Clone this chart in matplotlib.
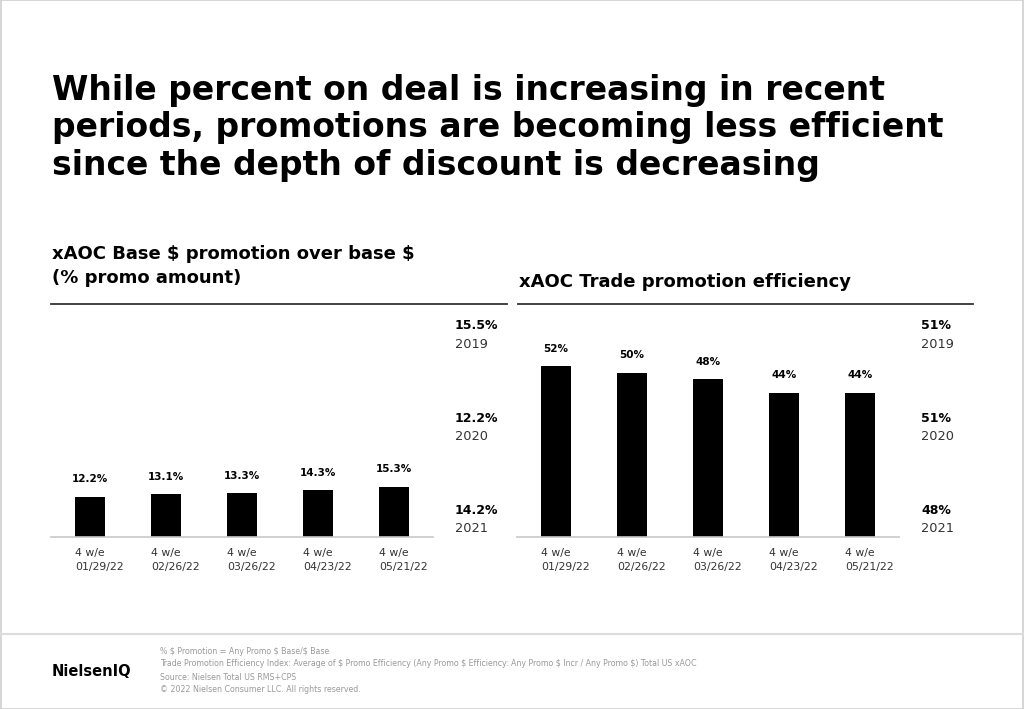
import matplotlib.pyplot as plt
from matplotlib.lines import Line2D
from matplotlib.patches import Rectangle

plt.rcParams["text.parse_math"] = False

periods = ["4 w/e\n01/29/22", "4 w/e\n02/26/22", "4 w/e\n03/26/22", "4 w/e\n04/23/22", "4 w/e\n05/21/22"]
promo_pct = [12.2, 13.1, 13.3, 14.3, 15.3]
efficiency_pct = [52, 50, 48, 44, 44]

years = ["2019", "2020", "2021"]
promo_year_vals = ["15.5%", "12.2%", "14.2%"]
eff_year_vals = ["51%", "51%", "48%"]

title = ("While percent on deal is increasing in recent\n"
         "periods, promotions are becoming less efficient\n"
         "since the depth of discount is decreasing")
footnotes = ["% $ Promotion = Any Promo $ Base/$ Base",
             "Trade Promotion Efficiency Index: Average of $ Promo Efficiency (Any Promo $ Efficiency: Any Promo $ Incr / Any Promo $) Total US xAOC",
             "Source: Nielsen Total US RMS+CPS",
             "\u00a9 2022 Nielsen Consumer LLC. All rights reserved."]

W, H = 1024, 709
fig = plt.figure(figsize=(W / 100, H / 100), dpi=100)
fig.patch.set_facecolor("white")


def fx(px):
    return px / W


def fy(py):
    return 1 - py / H


# outer border and footer separator
fig.add_artist(Rectangle((0.0005, 0.0007), 0.999, 0.9986, transform=fig.transFigure,
                         fill=False, edgecolor="#cfcfcf", lw=1.2))
fig.add_artist(Line2D([0, 1], [fy(634), fy(634)], transform=fig.transFigure,
                      color="#dcdcdc", lw=1.5))

fig.text(fx(52), fy(128), title, fontsize=23.8, fontweight="bold", color="black",
         va="center", ha="left", linespacing=1.17)

fig.text(fx(52), fy(266), "xAOC Base $ promotion over base $\n(% promo amount)",
         fontsize=13, fontweight="bold", va="center", ha="left", linespacing=1.4)
fig.text(fx(519), fy(282), "xAOC Trade promotion efficiency",
         fontsize=13, fontweight="bold", va="center", ha="left")

fig.add_artist(Line2D([fx(51), fx(507)], [fy(304), fy(304)], transform=fig.transFigure,
                      color="#333333", lw=1.3))
fig.add_artist(Line2D([fx(518), fx(973)], [fy(304), fy(304)], transform=fig.transFigure,
                      color="#333333", lw=1.3))


def bar_panel(x0, values, fmt):
    ax = fig.add_axes([fx(x0), fy(537), fx(382), 233 / H])
    xs = range(len(values))
    ax.bar(xs, values, width=0.4, color="black")
    ax.set_xlim(-0.513, len(values) - 0.487)
    ax.set_ylim(0, 71)
    for s in ["top", "right", "left"]:
        ax.spines[s].set_visible(False)
    ax.spines["bottom"].set_color("#c8c8c8")
    ax.spines["bottom"].set_linewidth(1.2)
    ax.set_yticks([])
    ax.set_xticks([x - 0.2 for x in xs])
    ax.set_xticklabels(periods, fontsize=7.8, color="#333333", ha="left", linespacing=1.5)
    ax.tick_params(axis="x", length=0, pad=8)
    for x, v in zip(xs, values):
        ax.annotate(fmt(v), (x, v), xytext=(0, 9), textcoords="offset points",
                    ha="center", va="bottom", fontsize=7.5, fontweight="bold")
    return ax


bar_panel(51, promo_pct, lambda v: f"{v:.1f}%")
bar_panel(517, efficiency_pct, lambda v: f"{v:.0f}%")

for xp, vals in [(455, promo_year_vals), (921, eff_year_vals)]:
    for i, (val, yr) in enumerate(zip(vals, years)):
        y = 326 + i * 92
        fig.text(fx(xp), fy(y), val, fontsize=9, fontweight="bold", va="center", ha="left")
        fig.text(fx(xp), fy(y + 18), yr, fontsize=9.3, color="#333333", va="center", ha="left")

fig.text(fx(52), fy(671), "NielsenIQ", fontsize=10.5, fontweight="bold", va="center", ha="left")
for i, line in enumerate(footnotes):
    fig.text(fx(160), fy(651 + i * 13), line, fontsize=5.7, color="#9a9a9a",
             va="center", ha="left")

fig.savefig("out.png", dpi=100, facecolor="white")
